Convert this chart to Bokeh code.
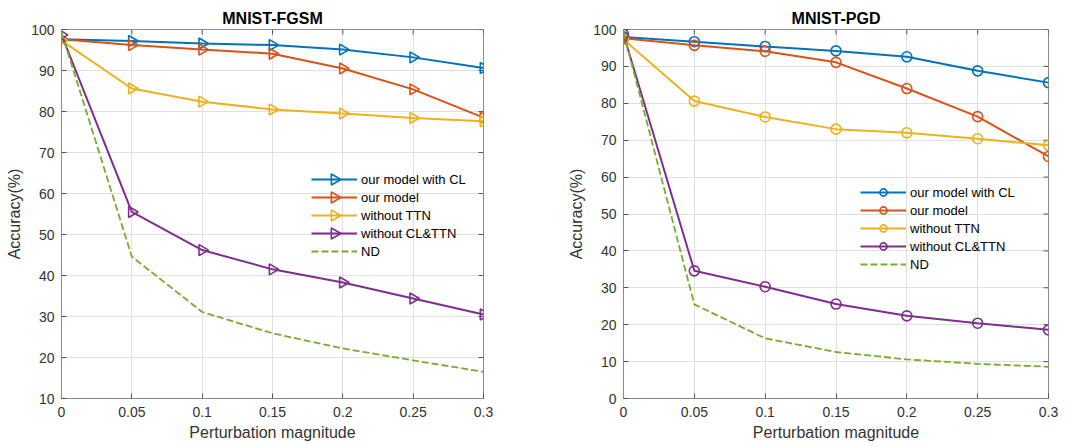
import math
from bokeh.plotting import figure
from bokeh.layouts import row
from bokeh.models import FixedTicker, Legend, LegendItem, Range1d
from bokeh.embed import file_html
from bokeh.resources import INLINE

x_vals = [0, 0.05, 0.1, 0.15, 0.2, 0.25, 0.3]
x_tick_labels = ["0", "0.05", "0.1", "0.15", "0.2", "0.25", "0.3"]
series_names = ["our model with CL", "our model", "without TTN", "without CL&TTN", "ND"]

fgsm_cl = [97.6, 97.2, 96.6, 96.2, 95.1, 93.2, 90.6]
fgsm_model = [97.6, 96.2, 95.1, 94.1, 90.5, 85.4, 78.5]
fgsm_nottn = [97.3, 85.6, 82.4, 80.5, 79.5, 78.4, 77.6]
fgsm_nocl = [98.7, 55.5, 46.2, 41.5, 38.3, 34.4, 30.5]
fgsm_nd = [99.3, 44.6, 31.1, 25.9, 22.2, 19.3, 16.5]

pgd_cl = [98.0, 96.7, 95.4, 94.2, 92.6, 88.8, 85.6]
pgd_model = [97.6, 95.7, 94.1, 91.1, 84.0, 76.4, 65.6]
pgd_nottn = [97.3, 80.6, 76.3, 73.0, 72.0, 70.4, 68.6]
pgd_nocl = [98.7, 34.6, 30.3, 25.6, 22.4, 20.4, 18.6]
pgd_nd = [99.2, 25.5, 16.3, 12.6, 10.6, 9.4, 8.6]

colors = ["#0072BD", "#D95319", "#EDB120", "#7E2F8E", "#77AC30"]
FONT = "Liberation Sans"
AX = "#8a8a8a"
TXT = "#333333"

H = 446
BT, BB = 29, 48
ROW_H = 18
GLYPH_W = 46


def make_panel(title, data, y_min, y_max, marker, width, bl, br, legend_xy):
    fw = width - bl - br
    fh = H - BT - BB
    p = figure(width=width, height=H, output_backend="svg", toolbar_location=None,
               x_range=(0, 0.3), y_range=(y_min, y_max),
               min_border_left=bl, min_border_right=br, min_border_top=BT, min_border_bottom=BB)
    p.extra_x_ranges = {"lg": Range1d(0, fw)}
    p.extra_y_ranges = {"lg": Range1d(0, fh)}
    p.title.text = title
    p.title.align = "center"
    p.title.text_font = FONT
    p.title.text_font_size = "16px"
    p.title.text_font_style = "bold"
    p.title.text_color = "black"
    p.title.standoff = 5
    p.outline_line_color = AX
    p.outline_line_alpha = 1
    p.outline_line_width = 1

    yt = list(range(y_min, y_max + 1, 10))
    p.xaxis.ticker = FixedTicker(ticks=x_vals)
    p.xaxis.major_label_overrides = {x: l for x, l in zip(x_vals, x_tick_labels)}
    p.yaxis.ticker = FixedTicker(ticks=yt)
    for ax in (p.xaxis[0], p.yaxis[0]):
        ax.major_tick_in = 5
        ax.major_tick_out = 0
        ax.minor_tick_in = 0
        ax.minor_tick_out = 0
        ax.axis_line_color = AX
        ax.major_tick_line_color = "#555555"
        ax.major_label_text_font = FONT
        ax.major_label_text_font_size = "14px"
        ax.major_label_text_color = TXT
        ax.axis_label_text_font = FONT
        ax.axis_label_text_font_size = "16px"
        ax.axis_label_text_font_style = "normal"
        ax.axis_label_text_color = TXT
    p.xaxis.axis_label = "Perturbation magnitude"
    p.yaxis.axis_label = "Accuracy(%)"
    p.xaxis.major_label_standoff = 8
    p.xaxis.axis_label_standoff = 4
    p.yaxis.major_label_standoff = 7
    p.yaxis.axis_label_standoff = 5

    # mirrored ticks on the right and top edges of the box
    p.ray(x=[0.3] * len(yt), y=yt, length=5, length_units="screen", angle=math.pi,
          line_color="#555555", line_width=1)
    p.ray(x=x_vals, y=[y_max] * len(x_vals), length=5, length_units="screen",
          angle=-math.pi / 2, line_color="#555555", line_width=1)

    p.xgrid.grid_line_color = "#e0e0e0"
    p.ygrid.grid_line_color = "#e0e0e0"
    p.xgrid.ticker = FixedTicker(ticks=x_vals)
    p.ygrid.ticker = FixedTicker(ticks=yt)

    n = len(series_names)
    lx, ly = legend_xy
    items = []
    for i, (name, ys) in enumerate(zip(series_names, data)):
        c = colors[i]
        if i < n - 1:
            ln = p.line(x_vals, ys, line_color=c, line_width=2)
            if marker == "triangle":
                p.scatter(x_vals, ys, marker="triangle", size=11, angle=-math.pi / 2,
                          line_color=c, line_width=1.6, fill_alpha=0)
                # legend key marker (rotated, drawn in frame pixel coordinates)
                p.scatter([lx + GLYPH_W / 2], [ly + (n - i - 0.5) * ROW_H],
                          x_range_name="lg", y_range_name="lg",
                          marker="triangle", size=11, angle=-math.pi / 2,
                          line_color=c, line_width=1.6, fill_alpha=0)
                items.append(LegendItem(label=name, renderers=[ln]))
            else:
                mk = p.scatter(x_vals, ys, marker="circle", size=10,
                               line_color=c, line_width=1.6, fill_alpha=0)
                items.append(LegendItem(label=name, renderers=[ln, mk]))
        else:
            ln = p.line(x_vals, ys, line_color=c, line_width=1.8, line_dash="7 3")
            items.append(LegendItem(label=name, renderers=[ln]))

    leg = Legend(items=items, location=legend_xy)
    leg.background_fill_alpha = 0
    leg.border_line_alpha = 0
    leg.padding = 0
    leg.margin = 0
    leg.spacing = 0
    leg.label_height = ROW_H
    leg.glyph_height = ROW_H
    leg.glyph_width = GLYPH_W
    leg.label_standoff = 4
    leg.label_text_font = FONT
    leg.label_text_font_size = "13px"
    leg.label_text_color = "black"
    p.add_layout(leg, "center")
    return p


p1 = make_panel("MNIST-FGSM", [fgsm_cl, fgsm_model, fgsm_nottn, fgsm_nocl, fgsm_nd],
                10, 100, "triangle", 538, 61, 55, (250, 138))
p2 = make_panel("MNIST-PGD", [pgd_cl, pgd_model, pgd_nottn, pgd_nocl, pgd_nd],
                0, 100, "circle", 536, 85, 26, (237, 125))

layout = row(p1, p2)
open("out.html", "w").write(file_html(layout, INLINE))
